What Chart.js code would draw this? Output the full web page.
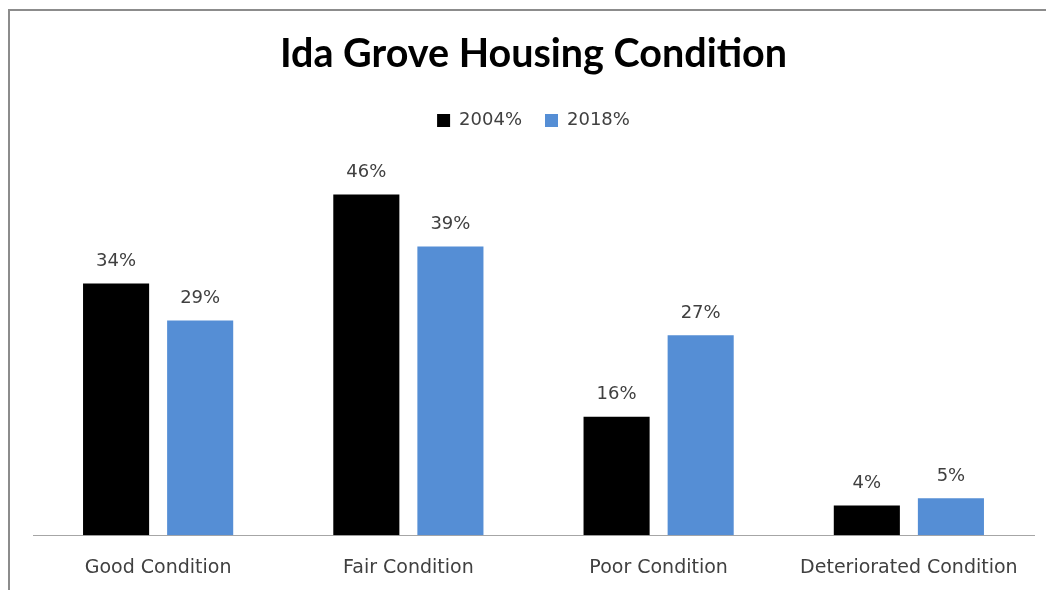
<!DOCTYPE html>
<html>
<head>
<meta charset="utf-8">
<script src="https://cdn.jsdelivr.net/npm/chart.js@4"></script>
<style>
  html, body { margin: 0; padding: 0; background: #ffffff; }
  #wrap { width: 1046px; height: 590px; position: relative; }
</style>
</head>
<body>
<div id="wrap"><canvas id="c" width="1046" height="590"></canvas></div>
<script>
const categories = ["Good Condition", "Fair Condition", "Poor Condition", "Deteriorated Condition"];
const values2004 = [34, 46, 16, 4];
const values2018 = [29, 39, 27, 5];
const seriesLabels = ["2004%", "2018%"];
const chartTitle = "Ida Grove Housing Condition";

const borderPlugin = {
  id: 'frame',
  beforeDraw(chart) {
    const ctx = chart.ctx;
    ctx.save();
    ctx.fillStyle = '#ffffff';
    ctx.fillRect(0, 0, chart.width, chart.height);
    ctx.strokeStyle = '#8c8c8c';
    ctx.lineWidth = 2;
    ctx.strokeRect(9, 10, chart.width + 20, chart.height + 20);
    ctx.restore();
  }
};

const valueLabels = {
  id: 'valueLabels',
  afterDatasetsDraw(chart) {
    const ctx = chart.ctx;
    ctx.save();
    ctx.font = '18px "DejaVu Sans"';
    ctx.fillStyle = '#404040';
    ctx.textAlign = 'center';
    ctx.textBaseline = 'middle';
    chart.data.datasets.forEach((ds, i) => {
      const meta = chart.getDatasetMeta(i);
      meta.data.forEach((bar, j) => {
        ctx.fillText(ds.data[j] + '%', bar.x, bar.y - 22);
      });
    });
    ctx.restore();
  }
};

new Chart(document.getElementById('c'), {
  type: 'bar',
  data: {
    labels: categories,
    datasets: [
      { label: seriesLabels[0], data: values2004, backgroundColor: '#000000', categoryPercentage: 0.672, barPercentage: 0.786 },
      { label: seriesLabels[1], data: values2018, backgroundColor: '#558ED5', categoryPercentage: 0.672, barPercentage: 0.786 }
    ]
  },
  options: {
    responsive: false,
    animation: false,
    devicePixelRatio: 1,
    layout: { padding: { top: 10, left: 33, right: 12, bottom: -10 } },
    plugins: {
      title: {
        display: true,
        text: chartTitle,
        color: '#000000',
        font: { family: 'Lato', size: 39.5, weight: 'bold' },
        padding: { top: 21, bottom: 10 }
      },
      legend: {
        display: true,
        position: 'top',
        labels: {
          boxWidth: 13,
          boxHeight: 13,
          padding: 23,
          color: '#404040',
          font: { family: 'DejaVu Sans', size: 18 }
        }
      },
      tooltip: { enabled: false }
    },
    scales: {
      x: {
        grid: { display: false, drawTicks: false },
        border: { display: true, color: '#a6a6a6', width: 1 },
        ticks: { color: '#404040', padding: 21, font: { family: 'DejaVu Sans', size: 19 } }
      },
      y: {
        display: false,
        min: 0,
        max: 53.45
      }
    }
  },
  plugins: [borderPlugin, valueLabels]
});
</script>
</body>
</html>
